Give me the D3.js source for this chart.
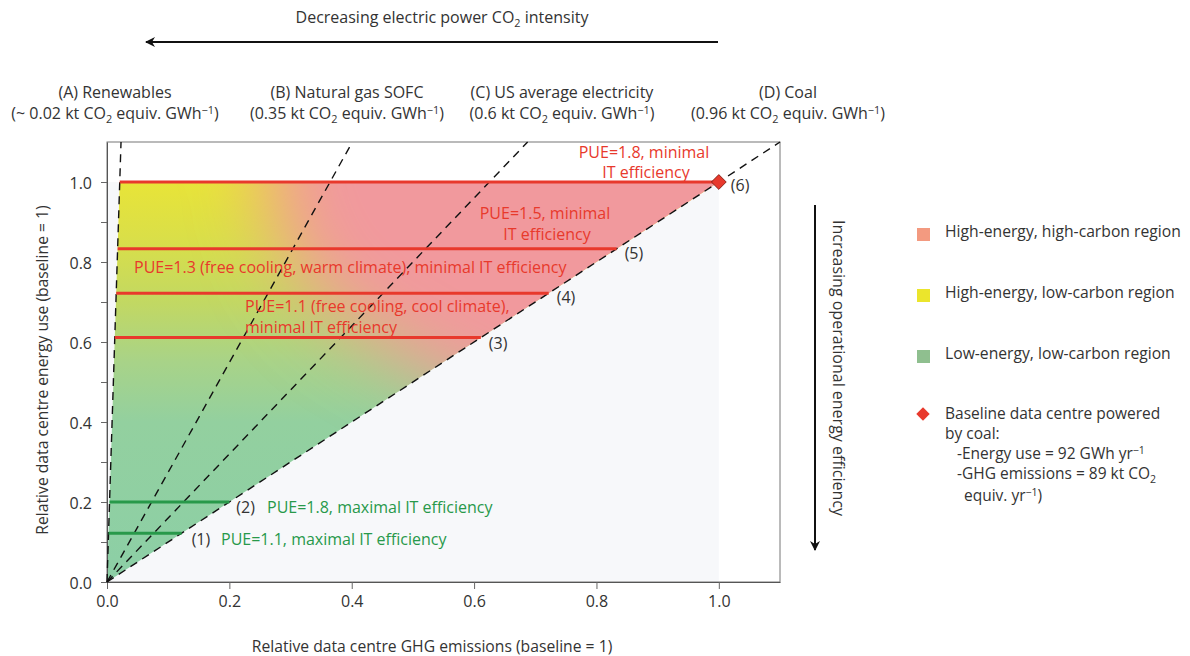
<!DOCTYPE html>
<html>
<head>
<meta charset="utf-8">
<script src="https://cdn.jsdelivr.net/npm/d3@7"></script>
<style>
  body { margin: 0; background: #fff; }
  svg { font-family: "Open Sans", "Noto Sans", sans-serif; }
</style>
</head>
<body>
<div id="chart"></div>
<script>
// --- data ---
const intensityNames = ["(A) Renewables", "(B) Natural gas SOFC", "(C) US average electricity", "(D) Coal"];
const intensityLabels = ["~ 0.02", "0.35", "0.6", "0.96"];
const intensityValues = [0.02, 0.35, 0.6, 0.96]; // kt CO2 equiv. per GWh
const baselineIntensity = 0.96; // coal

const caseIds = ["(1)", "(2)", "(3)", "(4)", "(5)", "(6)"];
const caseEnergy = [0.122, 0.2, 0.611, 0.722, 0.833, 1.0];
const caseIT = ["maximal", "maximal", "minimal", "minimal", "minimal", "minimal"];

const xTicks = [0, 0.2, 0.4, 0.6, 0.8, 1.0];
const yTicks = [0, 0.1, 0.2, 0.3, 0.4, 0.5, 0.6, 0.7, 0.8, 0.9, 1.0];

const legendItems = ["High-energy, high-carbon region", "High-energy, low-carbon region", "Low-energy, low-carbon region"];

// --- layout ---
const w = 1190, h = 656;
const xScale = d3.scaleLinear().domain([0, 1.1]).range([107, 780]);
const yScale = d3.scaleLinear().domain([0, 1.1]).range([582, 142]);

const redCol = "#e8392c", greenCol = "#28994a", textCol = "#333";
const fs = 16;

const svg = d3.select("#chart").append("svg")
    .attr("width", w).attr("height", h);

// rich text: parts = [[string, mode]], mode "" | "sub" | "sup"
function richLine(sel, parts) {
    let shift = 0;
    parts.forEach(function (p) {
        const t = sel.append("tspan").text(p[0]);
        let target = 0;
        if (p[1] === "sub") { target = 4; t.attr("font-size", "0.68em"); }
        if (p[1] === "sup") { target = -5; t.attr("font-size", "0.68em"); }
        if (target - shift !== 0) t.attr("dy", target - shift);
        shift = target;
    });
}

const defs = svg.append("defs");
const slopeA = intensityValues[0] / baselineIntensity;
const line = d3.line().x(d => xScale(d[0])).y(d => yScale(d[1]));

// clip for coloured region
defs.append("clipPath").attr("id", "triClip")
    .append("path")
    .attr("d", line([[0, 0], [slopeA, 1], [1, 1]]) + "Z");

defs.append("filter").attr("id", "blur")
    .attr("filterUnits", "userSpaceOnUse")
    .attr("x", 0).attr("y", 0).attr("width", w).attr("height", h)
    .append("feGaussianBlur").attr("stdDeviation", 38);

// vertical yellow -> green gradient for the low-carbon side
const grad = defs.append("linearGradient").attr("id", "lowCarbon")
    .attr("gradientUnits", "userSpaceOnUse")
    .attr("x1", 0).attr("x2", 0).attr("y1", yScale(1)).attr("y2", yScale(0));
[[1.0, "#e8e438"], [0.86, "#dadf48"], [0.7, "#c2d862"], [0.55, "#a8d388"], [0.4, "#93d09f"], [0, "#8ccfa6"]]
    .forEach(function (s) {
        grad.append("stop").attr("offset", 1 - s[0]).attr("stop-color", s[1]);
    });

// light background under the diagonal
svg.append("rect")
    .attr("x", xScale(0)).attr("y", yScale(1))
    .attr("width", xScale(1) - xScale(0)).attr("height", yScale(0) - yScale(1))
    .attr("fill", "#f7f8fa");

// coloured region
const region = svg.append("g").attr("clip-path", "url(#triClip)");
region.append("rect").attr("x", 0).attr("y", 0).attr("width", w).attr("height", h).attr("fill", "url(#lowCarbon)");
region.append("g").attr("filter", "url(#blur)")
    .append("path")
    .attr("d", line([[0.25, 1.4], [0.26, 1.0], [0.3, 0.8], [0.38, 0.66], [0.5, 0.55], [0.66, 0.42], [0.85, 0.3], [1.5, 0.3], [1.5, 1.4]]) + "Z")
    .attr("fill", "#f1999d");

// frame
svg.append("rect")
    .attr("x", xScale(0)).attr("y", yScale(1.1))
    .attr("width", xScale(1.1) - xScale(0)).attr("height", yScale(0) - yScale(1.1))
    .attr("fill", "none").attr("stroke", "#777").attr("stroke-width", 1);

// axes
const xAxis = d3.axisBottom(xScale).tickValues(xTicks).tickSize(7).tickSizeOuter(0).tickPadding(7)
    .tickFormat(d3.format(".1f"));
const yAxis = d3.axisLeft(yScale).tickValues(yTicks).tickSize(6).tickSizeOuter(0).tickPadding(9)
    .tickFormat(d => (Math.round(d * 10) % 2 === 0) ? d3.format(".1f")(d) : "");

const gx = svg.append("g").attr("transform", "translate(0," + yScale(0) + ")").call(xAxis);
const gy = svg.append("g").attr("transform", "translate(" + xScale(0) + ",0)").call(yAxis);
[gx, gy].forEach(function (g) {
    g.select(".domain").attr("stroke", "#555");
    g.selectAll(".tick line").attr("stroke", "#666");
    g.selectAll(".tick text").attr("fill", textCol).attr("font-size", 16)
        .attr("font-family", "'Open Sans', sans-serif");
});
gy.selectAll(".tick text").attr("dy", "0.4em");

// dashed intensity lines from the origin
svg.append("g").selectAll("path")
    .data(intensityValues)
    .enter().append("path")
    .attr("d", function (d) {
        const s = d / baselineIntensity;
        return line([[0, 0], [1.1 * s, 1.1]]);
    })
    .attr("fill", "none").attr("stroke", "#111").attr("stroke-width", 1.4)
    .attr("stroke-dasharray", "8,6");

// PUE lines
svg.append("g").selectAll("line")
    .data(caseEnergy)
    .enter().append("line")
    .attr("x1", d => xScale(d * slopeA))
    .attr("x2", d => xScale(d))
    .attr("y1", d => yScale(d)).attr("y2", d => yScale(d))
    .attr("stroke", (d, i) => caseIT[i] === "maximal" ? greenCol : redCol)
    .attr("stroke-width", 3);

// case ids
const idOffsets = [[10, 12], [7, 11], [8, 11], [8, 10], [8, 10], [12, 9]];
svg.append("g").selectAll("text")
    .data(caseEnergy)
    .enter().append("text")
    .attr("x", (d, i) => xScale(d) + idOffsets[i][0])
    .attr("y", (d, i) => yScale(d) + idOffsets[i][1])
    .attr("font-size", fs).attr("fill", textCol)
    .text((d, i) => caseIds[i]);

// baseline diamond
svg.append("path")
    .attr("d", d3.symbol(d3.symbolSquare, 110)())
    .attr("transform", "translate(" + xScale(1) + "," + yScale(1) + ") rotate(45)")
    .attr("fill", redCol).attr("stroke", "#7a1a10").attr("stroke-width", 0.8);

// annotations for PUE lines
const notes = [
    { t: "PUE=1.1, maximal IT efficiency", x: 221, y: 545, c: greenCol, a: "start" },
    { t: "PUE=1.8, maximal IT efficiency", x: 267, y: 513, c: greenCol, a: "start" },
    { t: "PUE=1.1 (free cooling, cool climate),", x: 245, y: 312, c: redCol, a: "start" },
    { t: "minimal IT efficiency", x: 245, y: 333, c: redCol, a: "start" },
    { t: "PUE=1.3 (free cooling, warm climate), minimal IT efficiency", x: 134, y: 273, c: redCol, a: "start" },
    { t: "PUE=1.5, minimal", x: 545, y: 219, c: redCol, a: "middle" },
    { t: "IT efficiency", x: 547, y: 240, c: redCol, a: "middle" },
    { t: "PUE=1.8, minimal", x: 644, y: 158, c: redCol, a: "middle" },
    { t: "IT efficiency", x: 646, y: 178, c: redCol, a: "middle" }
];
svg.append("g").selectAll("text")
    .data(notes)
    .enter().append("text")
    .attr("x", d => d.x).attr("y", d => d.y)
    .attr("text-anchor", d => d.a)
    .attr("font-size", fs).attr("fill", d => d.c)
    .text(d => d.t);

// intensity labels across the top
const topX = [115, 347, 562, 788];
intensityNames.forEach(function (name, i) {
    svg.append("text").attr("x", topX[i]).attr("y", 98)
        .attr("text-anchor", "middle").attr("font-size", fs).attr("fill", textCol)
        .text(name);
    const t = svg.append("text").attr("x", topX[i]).attr("y", 119)
        .attr("text-anchor", "middle").attr("font-size", fs).attr("fill", textCol);
    richLine(t, [["(" + intensityLabels[i] + " kt CO", ""], ["2", "sub"], [(i === 1 ? "  " : " ") + "equiv. GWh", ""], ["\u22121", "sup"], [")", ""]]);
});

// top arrow
defs.append("marker").attr("id", "head")
    .attr("viewBox", "0 0 10 10").attr("refX", 9).attr("refY", 5)
    .attr("markerWidth", 10).attr("markerHeight", 10).attr("markerUnits", "userSpaceOnUse")
    .attr("orient", "auto")
    .append("path").attr("d", "M0,0 L10,5 L0,10 L3,5 Z").attr("fill", "#111");

svg.append("line").attr("x1", 718).attr("y1", 42).attr("x2", 146).attr("y2", 42)
    .attr("stroke", "#111").attr("stroke-width", 2).attr("marker-end", "url(#head)");
const title = svg.append("text").attr("x", 442).attr("y", 23)
    .attr("text-anchor", "middle").attr("font-size", fs).attr("fill", textCol);
richLine(title, [["Decreasing electric power CO", ""], ["2", "sub"], [" intensity", ""]]);

// right arrow
svg.append("line").attr("x1", 815).attr("y1", 205).attr("x2", 815).attr("y2", 550)
    .attr("stroke", "#111").attr("stroke-width", 2).attr("marker-end", "url(#head)");
svg.append("text")
    .attr("transform", "translate(833,368) rotate(90)")
    .attr("text-anchor", "middle").attr("font-size", fs).attr("fill", textCol)
    .text("Increasing operational energy efficiency");

// axis titles
svg.append("text").attr("x", 432).attr("y", 652)
    .attr("text-anchor", "middle").attr("font-size", 15.7).attr("fill", textCol)
    .text("Relative data centre GHG emissions (baseline = 1)");
svg.append("text")
    .attr("transform", "translate(48,370) rotate(-90)")
    .attr("text-anchor", "middle").attr("font-size", 15.7).attr("fill", textCol)
    .text("Relative data centre energy use (baseline = 1)");

// legend
const legendColors = ["#f39a80", "#ebe52c", "#8fbf8f"];
const legendY = [237, 298, 359];
const lg = svg.append("g");
lg.selectAll("rect").data(legendItems).enter().append("rect")
    .attr("x", 917).attr("y", (d, i) => legendY[i] - 9)
    .attr("width", 13).attr("height", 13)
    .attr("fill", (d, i) => legendColors[i]);
lg.selectAll("text").data(legendItems).enter().append("text")
    .attr("x", 945).attr("y", (d, i) => legendY[i])
    .attr("font-size", 15.7).attr("fill", textCol)
    .text(d => d);

lg.append("path")
    .attr("d", d3.symbol(d3.symbolSquare, 90)())
    .attr("transform", "translate(923,414) rotate(45)")
    .attr("fill", redCol);
const baseLines = [
    { x: 945, y: 419, p: [["Baseline data centre powered", ""]] },
    { x: 945, y: 439, p: [["by coal:", ""]] },
    { x: 957, y: 459, p: [["-Energy use = 92 GWh yr", ""], ["\u22121", "sup"]] },
    { x: 957, y: 479, p: [["-GHG emissions = 89 kt CO", ""], ["2", "sub"]] },
    { x: 964, y: 501, p: [["equiv. yr", ""], ["\u22121", "sup"], [")", ""]] }
];
baseLines.forEach(function (b) {
    const t = lg.append("text").attr("x", b.x).attr("y", b.y)
        .attr("font-size", 15.5).attr("fill", textCol);
    richLine(t, b.p);
});
</script>
</body>
</html>
